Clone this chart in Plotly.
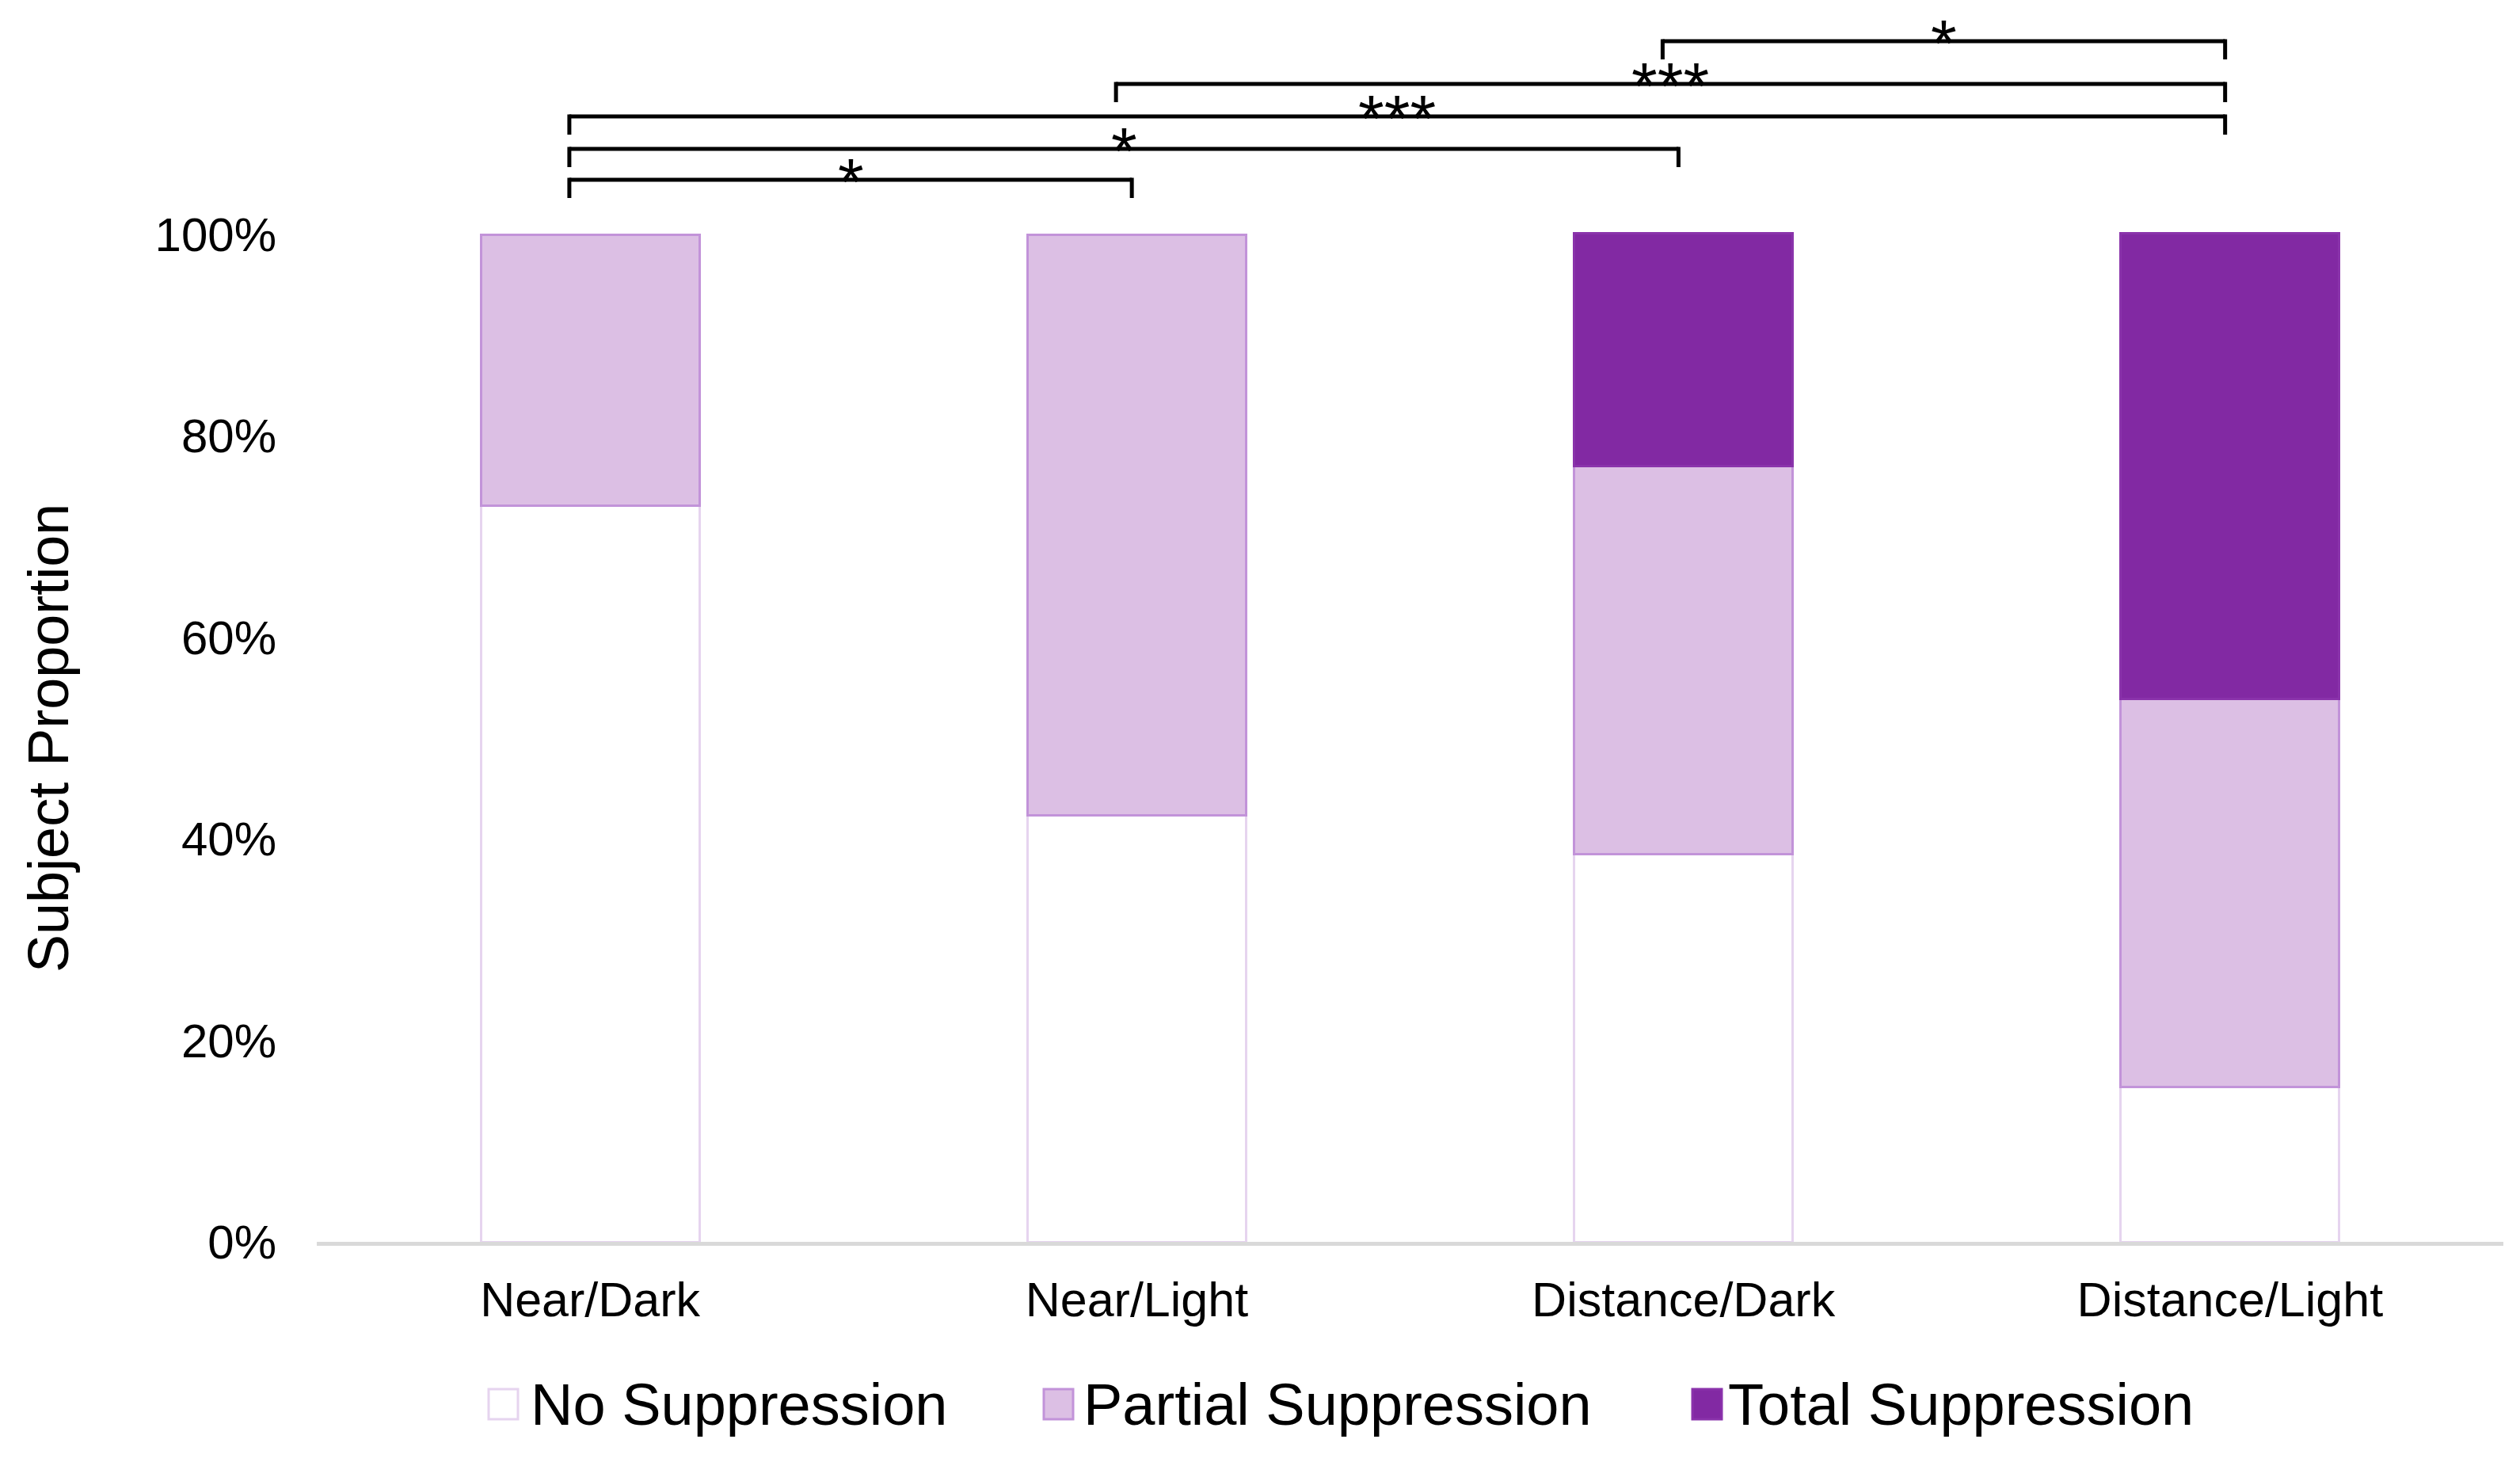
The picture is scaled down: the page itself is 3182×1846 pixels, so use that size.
import plotly.graph_objects as go

# ---------------- data ----------------
categories = ["Near/Dark", "Near/Light", "Distance/Dark", "Distance/Light"]
series_names = ["No Suppression", "Partial Suppression", "Total Suppression"]
no_suppression = [0.731, 0.423, 0.385, 0.154]
partial_suppression = [0.269, 0.577, 0.385, 0.385]
total_suppression = [0.0, 0.0, 0.231, 0.462]

y_tick_values = [0, 0.2, 0.4, 0.6, 0.8, 1.0]
y_tick_labels = ["0%", "20%", "40%", "60%", "80%", "100%"]
y_axis_title = "Subject Proportion"

comparison_left = ["Near/Dark", "Near/Dark", "Near/Dark", "Near/Light", "Distance/Dark"]
comparison_right = ["Near/Light", "Distance/Dark", "Distance/Light", "Distance/Light", "Distance/Light"]
comparison_labels = ["*", "*", "***", "***", "*"]

# ---------------- layout / style ----------------
W, H = 3182, 1846
PLOT_L, PLOT_R, PLOT_T, PLOT_B = 400, 3161, 20, 1568
PX_PER_UNIT = 1272.0                      # pixels for 0% -> 100%
Y_TOP = (PLOT_B - PLOT_T) / PX_PER_UNIT   # extend the axis so brackets fit above 100%

FONT = "Liberation Sans, Arial, sans-serif"
COL_NO_FILL, COL_NO_LINE = "#FFFFFF", "#E6D4EF"
COL_PA_FILL, COL_PA_LINE = "#DCBFE4", "#C293D9"
COL_TO_FILL, COL_TO_LINE = "#8229A3", "#8A33AB"

fills = [COL_NO_FILL, COL_PA_FILL, COL_TO_FILL]
lines = [COL_NO_LINE, COL_PA_LINE, COL_TO_LINE]
values = [no_suppression, partial_suppression, total_suppression]


def px_to_y(py):
    return (PLOT_B - py) / PX_PER_UNIT


def px_to_paper_x(px):
    return (px - PLOT_L) / (PLOT_R - PLOT_L)


def px_to_paper_y(py):
    return (PLOT_B - py) / (PLOT_B - PLOT_T)


fig = go.Figure()
for name, vals, fc, lc in zip(series_names, values, fills, lines):
    fig.add_trace(go.Bar(
        x=categories, y=vals, name=name,
        marker=dict(color=fc, line=dict(color=lc, width=[3 if v > 0 else 0 for v in vals])),
        showlegend=False,
    ))

# ---------------- significance brackets ----------------
bracket_line_px = [227, 188, 147, 106, 52]   # vertical level of each bracket (px)
tick_len = 23 / PX_PER_UNIT
lw = 5
half_lw = (lw / 2) / PX_PER_UNIT
left_off, right_off = -0.038, -0.009

shapes = []
annotations = []
for i, (a, b, lab) in enumerate(zip(comparison_left, comparison_right, comparison_labels)):
    xl = categories.index(a) + left_off
    xr = categories.index(b) + right_off
    yv = px_to_y(bracket_line_px[i])
    line = dict(color="#000000", width=lw)
    shapes.append(dict(type="line", xref="x", yref="y", x0=xl, x1=xr, y0=yv, y1=yv, line=line))
    shapes.append(dict(type="line", xref="x", yref="y", x0=xl, x1=xl, y0=yv - tick_len, y1=yv + half_lw, line=line))
    shapes.append(dict(type="line", xref="x", yref="y", x0=xr, x1=xr, y0=yv - tick_len, y1=yv + half_lw, line=line))
    annotations.append(dict(
        x=(xl + xr) / 2, y=yv, xref="x", yref="y", text=lab, showarrow=False,
        xanchor="center", yanchor="middle", yshift=-3,
        font=dict(family=FONT, size=84, color="#000000"),
    ))

# ---------------- custom legend ----------------
legend_squares = [(617, 654), (1318, 1355), (2137, 2174)]
legend_text_x = [668, 1366, 2180]
sq_top, sq_bot = 1754, 1792
legend_text_y = 1773
for (x0, x1), tx, name, fc, lc in zip(legend_squares, legend_text_x, series_names, fills, lines):
    shapes.append(dict(
        type="rect", xref="paper", yref="paper",
        x0=px_to_paper_x(x0), x1=px_to_paper_x(x1),
        y0=px_to_paper_y(sq_bot), y1=px_to_paper_y(sq_top),
        fillcolor=fc, line=dict(color=lc, width=3),
    ))
    annotations.append(dict(
        x=px_to_paper_x(tx), y=px_to_paper_y(legend_text_y), xref="paper", yref="paper",
        text=name, showarrow=False, xanchor="left", yanchor="middle",
        font=dict(family=FONT, size=74, color="#000000"),
    ))

# y-axis title
annotations.append(dict(
    x=px_to_paper_x(61), y=px_to_paper_y(932), xref="paper", yref="paper",
    text=y_axis_title, textangle=-90, showarrow=False,
    xanchor="center", yanchor="middle",
    font=dict(family=FONT, size=72, color="#000000"),
))

fig.update_layout(
    width=W, height=H,
    margin=dict(l=PLOT_L, r=W - PLOT_R, t=PLOT_T, b=H - PLOT_B, pad=0),
    paper_bgcolor="#FFFFFF", plot_bgcolor="#FFFFFF",
    barmode="stack", bargap=0.6,
    font=dict(family=FONT, color="#000000"),
    shapes=shapes, annotations=annotations,
    showlegend=False,
)
fig.update_xaxes(
    type="category", range=[-0.5, 3.5],
    showline=True, linecolor="#D9D9D9", linewidth=5,
    showgrid=False, zeroline=False, ticks="",
    tickfont=dict(family=FONT, size=61, color="#000000"),
    ticklabelstandoff=16,
)
fig.update_yaxes(
    range=[0, Y_TOP], tickvals=y_tick_values, ticktext=y_tick_labels,
    showline=False, showgrid=False, zeroline=False, ticks="",
    tickfont=dict(family=FONT, size=60, color="#000000"),
    ticklabelstandoff=50,
)

fig.write_html(
    "out.html",
    config={"displayModeBar": False},
    post_script="document.body.style.margin='0';document.body.style.overflow='hidden';",
)
